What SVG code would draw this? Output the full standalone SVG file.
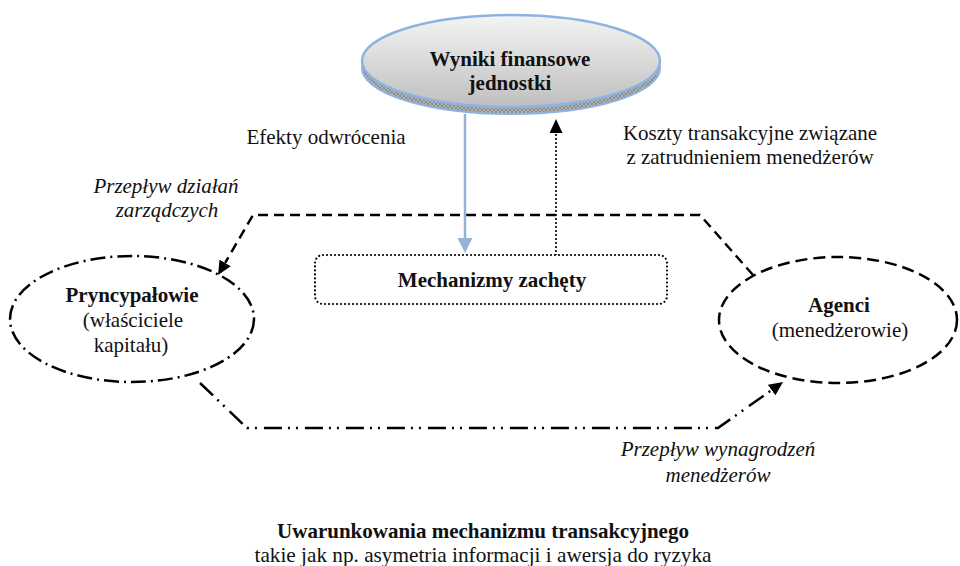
<svg xmlns="http://www.w3.org/2000/svg" width="960" height="566" viewBox="0 0 960 566">
<style>
text{font-family:"Liberation Serif","Times New Roman",serif;font-size:21px;fill:#111;text-anchor:middle}
.b{font-weight:bold}
.i{font-style:italic}
.k{fill:none;stroke:#000;stroke-width:2.5}
</style>
<defs>
<linearGradient id="gTop" x1="0" y1="0" x2="0" y2="1">
<stop offset="0" stop-color="#f4f4f4"/>
<stop offset="1" stop-color="#bfbfbf"/>
</linearGradient>
<pattern id="hatch" width="4" height="4" patternUnits="userSpaceOnUse">
<rect width="4" height="4" fill="#b4b4b4"/>
<path d="M0,0 L4,4 M4,0 L0,4" stroke="#7f7f7f" stroke-width="0.8"/>
</pattern>
<marker id="ahK" markerUnits="userSpaceOnUse" viewBox="0 0 14 13" markerWidth="14" markerHeight="13" refX="0" refY="6.5" orient="auto">
<path d="M0,0 L14,6.5 L0,13 Z" fill="#000"/>
</marker>
<marker id="ahB" markerUnits="userSpaceOnUse" viewBox="0 0 15 15" markerWidth="15" markerHeight="15" refX="0" refY="7.5" orient="auto">
<path d="M0,0 L15,7.5 L0,15 Z" fill="#95b3d7"/>
</marker>
</defs>

<g id="connectors">
<path class="k" d="M753,275 L700,215 L253,215 L225.1,262.9" stroke-dasharray="10 6" marker-end="url(#ahK)"/>
<path class="k" d="M200,383 L247,428 L718,428 L771.6,390.1" stroke-dasharray="18 6 2 6 2 7" marker-end="url(#ahK)"/>
<path d="M465,114 L465,238" fill="none" stroke="#95b3d7" stroke-width="2.5" marker-end="url(#ahB)"/>
<path d="M556,255 L556,133" fill="none" stroke="#000" stroke-width="2.2" stroke-linecap="round" stroke-dasharray="0 4" marker-end="url(#ahK)"/>
</g>

<g id="node-wyniki">
<ellipse cx="511" cy="68" rx="149" ry="46" fill="url(#hatch)" stroke="#8db3e2" stroke-width="2"/>
<ellipse cx="511" cy="61" rx="149" ry="46" fill="url(#gTop)" stroke="#8db3e2" stroke-width="2.5"/>
<text class="b" x="510" y="66">Wyniki finansowe</text>
<text class="b" x="510" y="90">jednostki</text>
</g>

<g id="node-mechanizmy">
<rect x="315" y="255" width="352" height="49" rx="8" fill="#fff" stroke="#000" stroke-width="2.2" stroke-linecap="round" stroke-dasharray="0 4"/>
<text class="b" x="492" y="287">Mechanizmy zachęty</text>
</g>

<g id="node-pryncypalowie">
<ellipse cx="132" cy="319" rx="122" ry="63" fill="none" stroke="#000" stroke-width="2.5" stroke-dasharray="15 5 2 5"/>
<text class="b" x="132" y="302">Pryncypałowie</text>
<text x="133" y="327">(właściciele</text>
<text x="131" y="352">kapitału)</text>
</g>

<g id="node-agenci">
<ellipse cx="838" cy="320" rx="119" ry="63" fill="none" stroke="#000" stroke-width="2.5" stroke-dasharray="12 6"/>
<text class="b" x="839" y="312">Agenci</text>
<text x="840" y="337">(menedżerowie)</text>
</g>

<g id="labels">
<text x="326" y="144">Efekty odwrócenia</text>
<text x="750" y="140">Koszty transakcyjne związane</text>
<text x="750" y="164">z zatrudnieniem menedżerów</text>
<text class="i" x="166" y="193">Przepływ działań</text>
<text class="i" x="167" y="217">zarządczych</text>
<text class="i" x="718" y="456">Przepływ wynagrodzeń</text>
<text class="i" x="718" y="482">menedżerów</text>
<text class="b" x="483" y="538">Uwarunkowania mechanizmu transakcyjnego</text>
<text x="483" y="562" textLength="457" lengthAdjust="spacingAndGlyphs">takie jak np. asymetria informacji i awersja do ryzyka</text>
</g>
</svg>
